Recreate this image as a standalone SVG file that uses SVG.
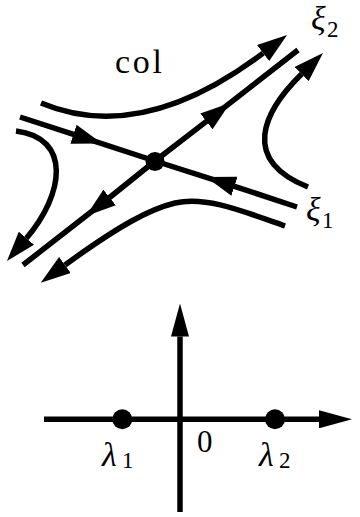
<svg xmlns="http://www.w3.org/2000/svg" width="360" height="517" viewBox="0 0 360 517">
<style>
.ln{fill:none;stroke:#000;stroke-width:5.5;stroke-linecap:butt;stroke-linejoin:round}
text{font-family:'Liberation Serif','DejaVu Serif',serif;fill:#000}
.gr{font-style:italic;font-size:34px}
.sub{font-size:23px}
</style>
<defs>
<marker id="arr" markerUnits="userSpaceOnUse" viewBox="0 -10 30 20" refX="0" refY="0" markerWidth="30" markerHeight="20" orient="auto"><path d="M0,-10 L30,0 L0,10 z" fill="#000"/></marker>
<marker id="axarr" markerUnits="userSpaceOnUse" viewBox="0 -9 33 18" refX="0" refY="0" markerWidth="33" markerHeight="18" orient="auto"><path d="M0,-9 L33,0 L0,9 z" fill="#000"/></marker>
</defs>
<rect width="360" height="517" fill="#fff"/>
<g id="connectors">
<path class="ln" d="M20,117 L73.5,134.3 L155,161" marker-mid="url(#arr)"/>
<path class="ln" d="M297,207 L234.5,186.3 L155,161" marker-mid="url(#arr)"/>
<path class="ln" d="M155,161 L206.4,121.4 L298,50" marker-mid="url(#arr)"/>
<path class="ln" d="M155,161 L109.6,197.5 L23,265" marker-mid="url(#arr)"/>
<path class="ln" d="M41,103 C110,132 185,112 263.1,53.1" marker-end="url(#arr)"/>
<path class="ln" d="M308,187 C240,160 263,112 301.6,74" marker-end="url(#arr)"/>
<path class="ln" d="M16,131 C72,138 64,194 26.4,238.2" marker-end="url(#arr)"/>
<path class="ln" d="M285,226 C240,210 205,196 175,203 C150,209 120,225 65,265" marker-end="url(#arr)"/>
<path class="ln" d="M44,419.3 L319,419.3" marker-end="url(#axarr)"/>
<path class="ln" d="M180,512 L180,336.5" marker-end="url(#axarr)"/>
</g>
<g id="saddle"><circle cx="155" cy="161.5" r="9.5" fill="#000"/></g>
<g id="label-col"><text x="115" y="73" font-family="Liberation Serif, serif" font-size="34" textLength="47" lengthAdjust="spacing">col</text></g>
<g id="label-xi2"><text class="gr" x="311" y="30" font-family="Liberation Serif, serif">ξ</text><text class="sub" x="327" y="37" font-family="Liberation Serif, serif">2</text></g>
<g id="label-xi1"><text class="gr" x="306" y="221" font-family="Liberation Serif, serif">ξ</text><text class="sub" x="322" y="228" font-family="Liberation Serif, serif">1</text></g>
<g id="lambda1"><circle cx="122.3" cy="419.3" r="10" fill="#000"/><text class="gr" x="102" y="466" font-family="Liberation Serif, serif">λ</text><text class="sub" x="122" y="468" font-family="Liberation Serif, serif">1</text></g>
<g id="origin"><text x="197" y="452" font-size="31" font-family="Liberation Serif, serif">0</text></g>
<g id="lambda2"><circle cx="275" cy="419.3" r="10" fill="#000"/><text class="gr" x="259" y="466" font-family="Liberation Serif, serif">λ</text><text class="sub" x="279" y="468" font-family="Liberation Serif, serif">2</text></g>
</svg>
